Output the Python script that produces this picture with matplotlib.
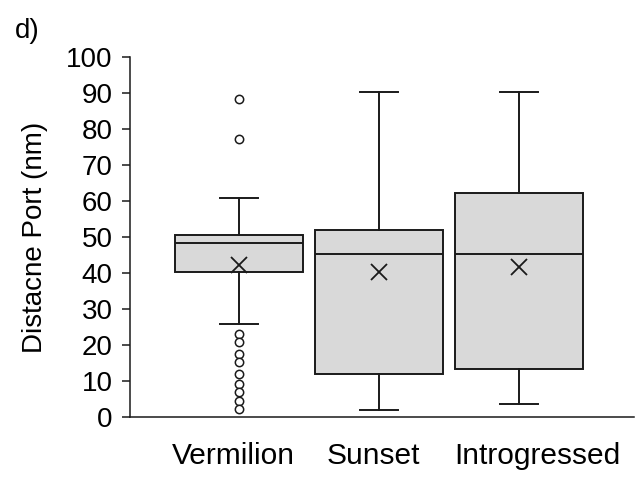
import matplotlib.pyplot as plt
from matplotlib.transforms import ScaledTranslation

plt.rcParams["font.family"] = ["Liberation Sans", "DejaVu Sans"]

groups = ["Vermilion", "Sunset", "Introgressed"]
q1 = [40.3, 11.8, 13.4]
medians = [48.3, 45.3, 45.3]
q3 = [50.6, 51.9, 62.2]
whisker_lo = [25.7, 2.0, 3.4]
whisker_hi = [60.8, 90.4, 90.4]
means = [42.2, 40.3, 41.7]
outliers = [
    [88.5, 77.3, 23.0, 20.8, 17.4, 15.2, 11.9, 9.1, 6.9, 4.4, 2.1],
    [],
    [],
]

stats = []
for i, name in enumerate(groups):
    stats.append({
        "label": name,
        "q1": q1[i],
        "med": medians[i],
        "q3": q3[i],
        "whislo": whisker_lo[i],
        "whishi": whisker_hi[i],
        "mean": means[i],
        "fliers": outliers[i],
    })

ink = "#1a1a1a"

fig = plt.figure(figsize=(6.38, 4.82), dpi=100)
ax = fig.add_axes([130 / 638, (482 - 416.7) / 482, 504 / 638, 359.4 / 482])

ax.bxp(
    stats,
    positions=[1, 2, 3],
    widths=0.91,
    capwidths=0.27,
    showmeans=True,
    patch_artist=True,
    boxprops=dict(facecolor="#d9d9d9", edgecolor=ink, linewidth=1.4),
    medianprops=dict(color=ink, linewidth=1.4),
    whiskerprops=dict(color=ink, linewidth=1.4),
    capprops=dict(color=ink, linewidth=1.4),
    meanprops=dict(marker="x", markersize=11, markeredgecolor=ink,
                   markeredgewidth=1.3),
    flierprops=dict(marker="o", markersize=6, markerfacecolor="white",
                    markeredgecolor=ink, markeredgewidth=1.1),
)

ax.set_xlim(0.2214, 3.821)
ax.set_ylim(0, 100)
ax.set_yticks(range(0, 101, 10))

for side in ["top", "right"]:
    ax.spines[side].set_visible(False)
for side in ["left", "bottom"]:
    ax.spines[side].set_linewidth(1.1)
    ax.spines[side].set_color(ink)

ax.tick_params(axis="y", length=5.5, width=1.1, color=ink, labelsize=20,
               pad=7)
ax.tick_params(axis="x", length=0, labelsize=21.5, pad=18)

# category labels sit slightly off the box centres
label_shift = [-5.5, -5.5, 18]
for lab, dx in zip(ax.get_xticklabels(), label_shift):
    lab.set_transform(lab.get_transform()
                      + ScaledTranslation(dx / 100, 0, fig.dpi_scale_trans))

ax.set_ylabel("Distacne Port (nm)", fontsize=20, labelpad=13)
fig.text(15 / 638, 1 - 38 / 482, "d)", fontsize=20)

fig.savefig("out.png", dpi=100)
